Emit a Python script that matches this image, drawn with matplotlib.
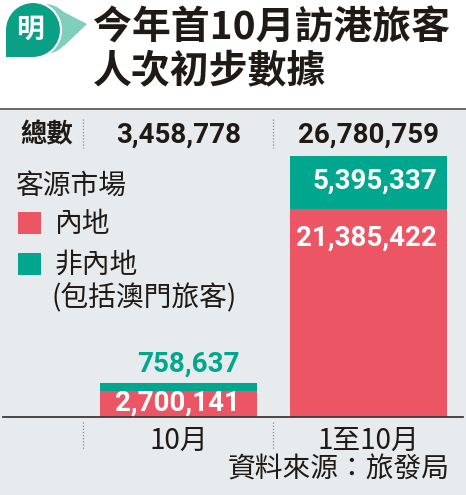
import matplotlib
matplotlib.use("Agg")
import matplotlib.pyplot as plt
import matplotlib.transforms as mtransforms
from matplotlib.patches import Rectangle, Circle, Polygon

# Visitor arrivals, provisional figures
periods = ["10月", "1至10月"]
mainland = [2700141, 21385422]
non_mainland = [758637, 5395337]
totals = [3458778, 26780759]

title_lines = ["今年首10月訪港旅客", "人次初步數據"]
legend_title = "客源市場"
legend_labels = ["內地", "非內地"]
legend_note = "(包括澳門旅客)"
total_label = "總數"
source = "資料來源：旅發局"

RED = "#ec5564"
TEAL = "#00a68e"
PANEL = "#e7ebee"
INK = "#201a16"

CJK = ["Noto Sans CJK TC", "DejaVu Sans"]
NUM = ["Roboto", "Noto Sans CJK TC"]

W, H = 466, 495
fig = plt.figure(figsize=(W / 100, H / 100), dpi=100, facecolor="white")

# grey panel behind the chart
fig.patches.append(Rectangle((0, 0), 1, (H - 109) / H, transform=fig.transFigure,
                             facecolor=PANEL, edgecolor="none", zorder=-10))

# bar axes: baseline at y=417 px, top of axes at y=109 px
base_px, top_px = 417, 109
ax = fig.add_axes([0, (H - base_px) / H, 1, (base_px - top_px) / H], zorder=1)
ax.set_facecolor("none")
bar_w = 157 / 190
ax.set_xlim(-178.5 / 190, (W - 178.5) / 190)
px_per_unit = 261 / totals[1]
ax.set_ylim(0, (base_px - top_px) / px_per_unit)
for s in ax.spines.values():
    s.set_visible(False)
ax.set_yticks([])

x = list(range(len(periods)))
ax.bar(x, mainland, width=bar_w, color=RED, zorder=2)
ax.bar(x, non_mainland, width=bar_w, bottom=mainland, color=TEAL, zorder=2)
ax.axhline(0, xmin=3 / W, xmax=463 / W, color="#3d3a38", lw=1.3, zorder=3, clip_on=False)

ax.set_xticks(x)
ax.set_xticklabels(periods, fontfamily=CJK, fontsize=20, color=INK)
ax.tick_params(axis="x", length=0, pad=6.5)

pt = 72 / 100  # px -> points

# value labels
right_edge = [xi + bar_w / 2 for xi in x]
# 1-10 month: labels inside both segments
ax.annotate(f"{non_mainland[1]:,}", (right_edge[1], totals[1]), xytext=(-10 * pt, -25 * pt),
            textcoords="offset points", ha="right", va="center", fontfamily=NUM,
            fontweight="bold", fontsize=20, color="white", zorder=4)
ax.annotate(f"{mainland[1]:,}", (right_edge[1], mainland[1]), xytext=(-10 * pt, -30 * pt),
            textcoords="offset points", ha="right", va="center", fontfamily=NUM,
            fontweight="bold", fontsize=20, color="white", zorder=4)
# October: small bar, non-mainland label above
ax.annotate(f"{non_mainland[0]:,}", (right_edge[0], totals[0]), xytext=(-17 * pt, 19 * pt),
            textcoords="offset points", ha="right", va="center", fontfamily=NUM,
            fontweight="bold", fontsize=20, color=TEAL, zorder=4)
ax.annotate(f"{mainland[0]:,}", (right_edge[0], mainland[0]), xytext=(-17 * pt, -12 * pt),
            textcoords="offset points", ha="right", va="center", fontfamily=NUM,
            fontweight="bold", fontsize=20, color="white", zorder=4)

# overlay in pixel coordinates for titles, legend and decorations
ov = fig.add_axes([0, 0, 1, 1], zorder=5)
ov.set_xlim(0, W)
ov.set_ylim(H, 0)
ov.axis("off")
ov.set_facecolor("none")
blend = mtransforms.blended_transform_factory(ax.transData, ov.transData)

# separator under the title
ov.plot([0, W], [108.5, 108.5], color="#56524e", lw=1.2, solid_capstyle="butt")

# dotted dividers
for xd in (-0.5, 0.5):
    ov.plot([xd, xd], [119, 148], transform=blend, color="#8a8a8a", lw=0.9,
            linestyle=(0, (1, 1.5)))
    ov.plot([xd, xd], [422, 450], transform=blend, color="#8a8a8a", lw=0.9,
            linestyle=(0, (1, 1.5)))

# totals row
ov.text(20, 135, total_label, fontfamily=CJK, fontweight="bold", fontsize=19,
        color=INK, ha="left", va="center")
for xi, t in zip(x, totals):
    ov.text(xi, 135, f"{t:,}", transform=blend, fontfamily=NUM, fontweight="bold",
            fontsize=20, color=INK, ha="center", va="center")

# legend
ov.text(15, 186, legend_title, fontfamily=CJK, fontsize=20, color=INK, ha="left", va="center")
for (y0, col, lab) in [(212, RED, legend_labels[0]), (253, TEAL, legend_labels[1])]:
    ov.add_patch(Rectangle((18, y0), 23, 22, facecolor=col, edgecolor="none"))
    ov.text(55, y0 + 12, lab, fontfamily=CJK, fontsize=20, color=INK, ha="left", va="center")
ov.text(52, 298, legend_note, fontfamily=CJK, fontsize=20, color=INK, ha="left", va="center")

# source
ov.text(450, 470, source, fontfamily=CJK, fontsize=20, color=INK, ha="right", va="center")

# title
ov.text(93, 28, title_lines[0], fontfamily=CJK, fontweight="bold", fontsize=28,
        color=INK, ha="left", va="center")
ov.text(93, 72, title_lines[1], fontfamily=CJK, fontweight="bold", fontsize=28,
        color=INK, ha="left", va="center")

# logo: speech bubble with 明
ov.add_patch(Circle((45, 29), 25, facecolor="#7fcfbc", edgecolor="none"))
ov.add_patch(Polygon([(60, 10), (87, 24), (64, 46)], closed=True, facecolor="#7fcfbc",
                     edgecolor="none"))
ov.add_patch(Circle((33, 30), 28, facecolor="#0aa085", edgecolor="white", lw=1.5))
ov.add_patch(Polygon([(6, 30), (6, 57), (33, 57), (33, 30)], closed=True,
                     facecolor="#0aa085", edgecolor="none"))
ov.text(30, 30, "明", fontfamily=CJK, fontweight="bold", fontsize=20, color="white",
        ha="center", va="center")

fig.savefig("out.png", dpi=100, facecolor="white")
